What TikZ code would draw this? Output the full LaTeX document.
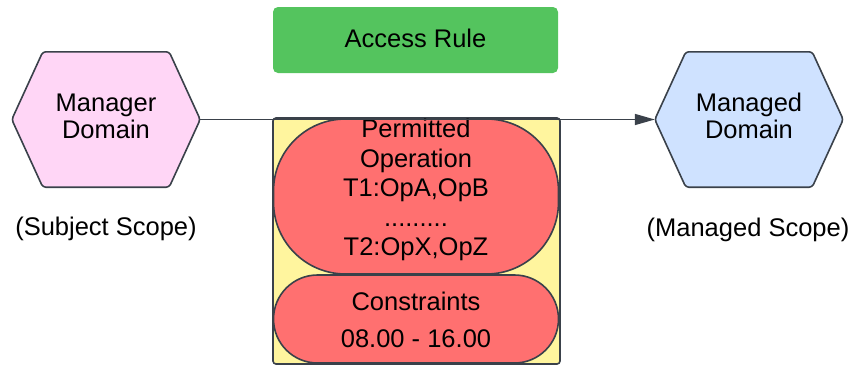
\documentclass[tikz,border=0pt]{standalone}
\usepackage{fontspec}
\setmainfont{Liberation Sans}
\usetikzlibrary{arrows.meta,calc}
\definecolor{edge}{HTML}{3A414A}
\definecolor{rulegreen}{HTML}{54C45E}
\definecolor{mgrpink}{HTML}{FFD6F6}
\definecolor{mgdblue}{HTML}{CFE2FF}
\definecolor{opred}{HTML}{FF7070}
\definecolor{boxyellow}{HTML}{FFF59E}
\tikzset{
  txt/.style={font=\fontsize{25.5}{29.5}\selectfont, align=center, inner sep=0pt},
  hextxt/.style={font=\fontsize{25.5}{27}\selectfont, align=center, inner sep=0pt},
  hexarea/.style={minimum width=188pt, minimum height=135pt, inner sep=0pt},
  hexline/.style={draw=edge, line width=1.6pt, rounded corners=3pt},
  shapeline/.style={draw=edge, line width=1.6pt},
  conn/.style={draw=edge, line width=1.6pt, -{Triangle[length=20pt,width=11pt]}},
}
\begin{document}
\begin{tikzpicture}[x=1pt,y=-1pt]
\useasboundingbox (0,0) rectangle (856,365);
% Access rule
\node[txt, fill=rulegreen, rounded corners=5pt, minimum width=285pt, minimum height=66pt] (rule) at (415.5,40) {};
\node[txt] (ruletext) at (415.5,38) {Access Rule};
% hexagons
\node[hexarea] (mgr) at (106,119.5) {};
\node[hexarea] (mgd) at (749,119.5) {};
\foreach \h/\c in {mgr/mgrpink, mgd/mgdblue}{
  \filldraw[hexline, fill=\c] (\h.west) -- ($(\h.north west)+(31,0)$) -- ($(\h.north east)+(-31,0)$) -- (\h.east) -- ($(\h.south east)+(-31,0)$) -- ($(\h.south west)+(31,0)$) -- cycle;
}
\node[hextxt] (mgrtext) at (106,116) {Manager\\Domain};
\node[hextxt] (mgdtext) at (749,116) {Managed\\Domain};
\node[txt] (subj) at (106,229) {(Subject Scope)};
\node[txt] (mgdscope) at (748,230) {(Managed Scope)};
% yellow box
\node[shapeline, fill=boxyellow, rounded corners=3pt, minimum width=287pt, minimum height=246pt, inner sep=0pt] (box) at (416.5,241) {};
\node[shapeline, fill=opred, rounded corners=72pt, minimum width=285pt, minimum height=155pt, inner sep=0pt] (perm) at (416,196.5) {};
\node[shapeline, fill=opred, rounded corners=44pt, minimum width=285pt, minimum height=88pt, inner sep=0pt] (cons) at (416,319) {};
\node[txt] (permtext) at (416,190) {Permitted\\Operation\\T1:OpA,OpB\\.........\\T2:OpX,OpZ};
\node[txt] (constext) at (416,320) {Constraints\\[7pt]08.00 - 16.00};
% connector
\draw[conn] (mgr.east) -- (mgd.west);
\end{tikzpicture}
\end{document}
